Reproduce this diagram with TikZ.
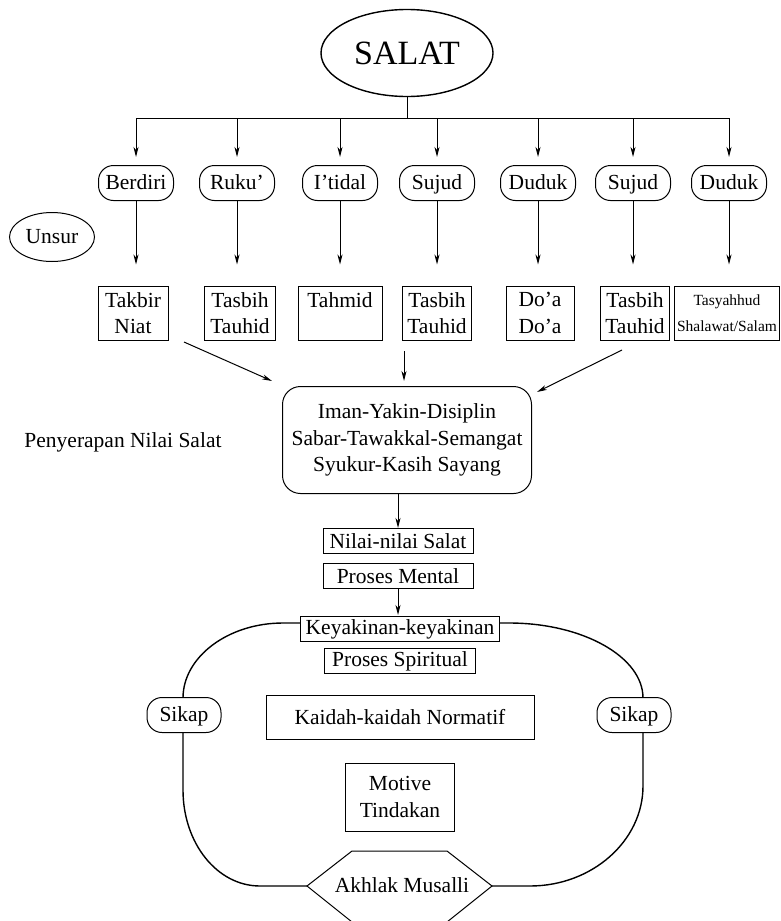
\documentclass[tikz,border=0pt]{standalone}
\usepackage{fontspec}
\setmainfont{Liberation Serif}
\usetikzlibrary{positioning,arrows.meta,shapes.geometric}

\begin{document}
\begin{tikzpicture}[x=1pt, y=-1pt, line width=1pt,
  every node/.style={font=\fontsize{21.5}{26.5}\selectfont, inner sep=2pt},
  oval/.style={draw, rounded corners=15pt, minimum width=75pt, minimum height=35pt, text height=16pt, text depth=2.5pt},
  kotak/.style={draw, align=center, minimum height=54pt},
  kecil/.style={draw, minimum height=25pt, inner sep=1pt},
  panah/.style={-{Stealth[length=10pt,width=5pt,inset=3pt]}}]
\useasboundingbox (0,0) rectangle (780,921);
% lingkaran sikap
\draw[line width=1.4pt] (283,623) -- (509,623) .. controls (583,623) and (643,657) .. (643,698) -- (643,786) .. controls (643,841) and (592,886) .. (530,886) -- (260,886) .. controls (217,886) and (183,843) .. (183,790) -- (183,698) .. controls (183,657) and (228,623) .. (283,623) -- cycle;
\filldraw[fill=white] (307,886) -- (352,851) -- (447,851) -- (492,886) -- (447,922) -- (352,922) -- cycle;
\node[ellipse, draw, line width=1.4pt, minimum width=172pt, minimum height=87pt, font=\fontsize{34}{40}\selectfont] (salat) at (407,53) {SALAT};
\coordinate (cabang) at (407,118);
\draw (salat) -- (cabang);
\node[oval] (berdiri) at (136,183) {Berdiri};
\node[oval] (ruku) at (237,183) {Ruku’};
\node[oval] (itidal) at (340,183) {I’tidal};
\node[oval] (sujudA) at (437,183) {Sujud};
\node[oval] (dudukA) at (538,183) {Duduk};
\node[oval] (sujudB) at (633,183) {Sujud};
\node[oval] (dudukB) at (729,183) {Duduk};
\draw[panah, shorten >=8pt] (cabang) -| (berdiri); \draw[panah, shorten >=8pt] (cabang) -| (ruku);
\draw[panah, shorten >=8pt] (cabang) -| (itidal); \draw[panah, shorten >=8pt] (cabang) -| (sujudA);
\draw[panah, shorten >=8pt] (cabang) -| (dudukA); \draw[panah, shorten >=8pt] (cabang) -| (sujudB);
\draw[panah, shorten >=8pt] (cabang) -| (dudukB);
\node[ellipse, draw, minimum width=85pt, minimum height=49pt] (unsur) at (52,237) {Unsur};
\node[kotak, minimum width=70pt] (takbir) at (133,313) {Takbir\\Niat};
\node[kotak, minimum width=71pt] (tasbihA) at (240,313) {Tasbih\\Tauhid};
\node[kotak, minimum width=84pt] (tahmid) at (340,313) {Tahmid\\~};
\node[kotak, minimum width=69pt] (tasbihB) at (437,313) {Tasbih\\Tauhid};
\node[kotak, minimum width=68pt] (doa) at (540,313) {Do’a\\Do’a};
\node[kotak, minimum width=69pt] (tasbihC) at (635,313) {Tasbih\\Tauhid};
\node[kotak, minimum width=105pt, inner sep=1pt, font=\fontsize{15.5}{18}\selectfont] (tasyahhud) at (727,313) {Tasyahhud\\[8pt]Shalawat/Salam};
\draw[panah, shorten >=21pt] (berdiri) -- (berdiri |- takbir.north);
\draw[panah, shorten >=21pt] (ruku) -- (ruku |- tasbihA.north);
\draw[panah, shorten >=21pt] (itidal) -- (itidal |- tahmid.north);
\draw[panah, shorten >=21pt] (sujudA) -- (sujudA |- tasbihB.north);
\draw[panah, shorten >=21pt] (dudukA) -- (dudukA |- doa.north);
\draw[panah, shorten >=21pt] (sujudB) -- (sujudB |- tasbihC.north);
\draw[panah, shorten >=21pt] (dudukB) -- (dudukB |- tasyahhud.north);
\node[draw, rounded corners=18pt, align=center, minimum width=249pt, minimum height=107pt] (serap) at (407,440) {Iman-Yakin-Disiplin\\Sabar-Tawakkal-Semangat\\Syukur-Kasih Sayang};
\node (penyerapan) at (123,442) {Penyerapan Nilai Salat};
\coordinate (asalkiri) at (184,342);
\coordinate (asaltengah) at (404,351);
\coordinate (asalkanan) at (622,350);
\draw[panah] (asalkiri) -- ([xshift=-10pt,yshift=5pt]serap.north west);
\draw[panah, shorten >=5pt] (asaltengah) -- (asaltengah |- serap.north);
\draw[panah] (asalkanan) -- ([xshift=5pt,yshift=-6pt]serap.north east);
\node[kecil, minimum width=150pt] (nilaisalat) at (398,541) {Nilai-nilai Salat};
\draw[panah] (nilaisalat |- serap.south) -- (nilaisalat);
\node[kecil, minimum width=150pt] (mental) at (398,576) {Proses Mental};
\node[kecil, fill=white, minimum width=199pt] (keyakinan) at (400,629) {Keyakinan-keyakinan};
\draw[panah, shorten >=1pt] (mental) -- (mental |- keyakinan.north);
\node[kecil, minimum width=151pt] (spiritual) at (400,661) {Proses Spiritual};
\node[draw, minimum width=268pt, minimum height=44pt] (kaidah) at (400,717) {Kaidah-kaidah Normatif};
\node[draw, align=center, minimum width=109pt, minimum height=68pt] (motive) at (400,797) {Motive\\Tindakan};
\node[oval, fill=white, minimum width=74pt] (sikapkiri) at (184,715) {Sikap};
\node[oval, fill=white, minimum width=74pt] (sikapkanan) at (634,715) {Sikap};
\node (akhlak) at (402,885) {Akhlak Musalli};
\end{tikzpicture}
\end{document}
